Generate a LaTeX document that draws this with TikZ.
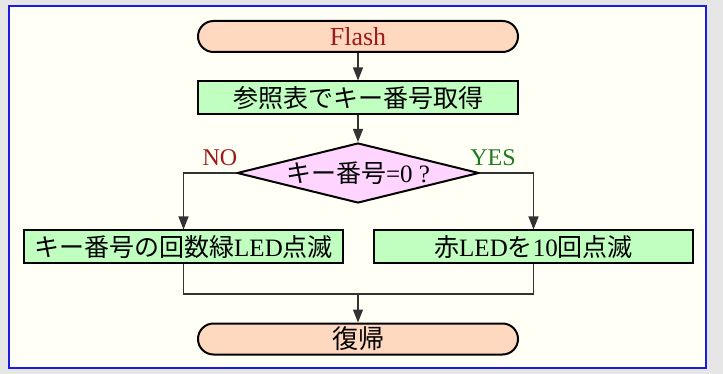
\documentclass[tikz,border=0pt]{standalone}
\usepackage{fontspec}
\setmainfont{Liberation Serif}
\newfontfamily\jp{Noto Sans CJK JP}
\usetikzlibrary{arrows.meta,shapes.geometric}
\definecolor{pagebg}{HTML}{E6E6E6}
\definecolor{panel}{HTML}{FFFFF6}
\definecolor{frameblue}{HTML}{1A1AE6}
\definecolor{peach}{HTML}{FFD8C0}
\definecolor{lgreen}{HTML}{C0FFC0}
\definecolor{lpink}{HTML}{FFD4FF}
\definecolor{dred}{HTML}{9B1B1B}
\definecolor{dgreen}{HTML}{1E7A1E}
\definecolor{linec}{HTML}{333333}
\tikzset{
  term/.style={draw=black, line width=2pt, fill=peach, rounded corners=15.5pt,
    minimum width=320pt, minimum height=31pt, inner sep=0pt, font=\fontsize{26}{26}\selectfont},
  proc/.style={draw=black, line width=2pt, fill=lgreen,
    minimum height=33pt, inner sep=0pt, font=\fontsize{25}{25}\selectfont},
  dia/.style={draw=black, line width=2pt, fill=lpink, shape=diamond,
    minimum width=242pt, minimum height=60pt, inner sep=0pt},
  arr/.style={draw=linec, line width=1.4pt, -{Triangle[length=13pt,width=10pt]}},
  conn/.style={draw=linec, line width=1.4pt},
  lbl/.style={font=\fontsize{24}{24}\selectfont, inner sep=0pt}
}
\begin{document}
\begin{tikzpicture}[x=1pt,y=-1pt]
\useasboundingbox (0,0) rectangle (723,374);
\fill[pagebg] (0,0) rectangle (723,374);
\draw[frameblue, line width=2pt, fill=panel] (9,6) rectangle (706,368);

\node[term, text=dred] (flash) at (358,36.5) {Flash};
\node[proc, minimum width=320pt] (get) at (358,98) {{\jp 参照表でキー番号取得}};
\node[dia, label={[font=\fontsize{25}{25}\selectfont, inner sep=0pt]center:{\jp キー番号}=0 ?}] (dec) at (358,173) {};
\node[proc, minimum width=319pt] (left) at (183.5,247) {{\jp キー番号の回数緑}LED{\jp 点滅}};
\node[proc, minimum width=319pt] (right) at (533.5,247) {{\jp 赤}LED{\jp を}10{\jp 回点滅}};
\node[term] (ret) at (358,339) {{\jp 復帰}};

\node[lbl, text=dred] (no) at (220,158) {NO};
\node[lbl, text=dgreen] (yes) at (493,158) {YES};

\coordinate (m) at (358,294);
\draw[arr] (flash) -- (get);
\draw[arr] (get) -- (dec);
\draw[arr] (dec.west) -| (left.north);
\draw[arr] (dec.east) -| (right.north);
\draw[conn] (left.south) |- (m) -| (right.south);
\draw[arr] (m) -- (ret);
\end{tikzpicture}
\end{document}
